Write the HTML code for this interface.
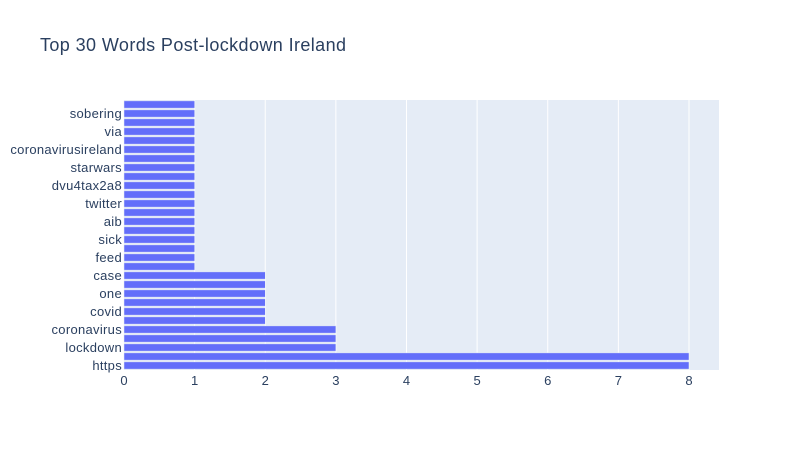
<!DOCTYPE html>
<html><head><meta charset="utf-8"><style>
body{margin:0;background:#fff;font-family:"Liberation Sans",Arial,sans-serif}
svg text{font-family:"Liberation Sans",Arial,sans-serif}
</style></head><body>
<svg id="chart" width="800" height="450">
<text x="40" y="51" font-size="18" letter-spacing="0.4" fill="#2a3f5f">Top 30 Words Post-lockdown Ireland</text>
<rect x="124" y="100" width="595" height="270" fill="#e5ecf6"/>
<g id="grid"></g><g id="bars"></g><g id="yt"></g><g id="xt"></g>
</svg>
<script>
const categories=["https","https2","lockdown","w3","coronavirus","w5","covid","w7","one","w9","case","w11","feed","w13","sick","w15","aib","w17","twitter","w19","dvu4tax2a8","w21","starwars","w23","coronavirusireland","w25","via","w27","sobering","w29"];
const values=[8,8,3,3,3,2,2,2,2,2,2,1,1,1,1,1,1,1,1,1,1,1,1,1,1,1,1,1,1,1];
const xTicks=[0,1,2,3,4,5,6,7,8];
const NS="http://www.w3.org/2000/svg";
const x0=124,x1=719,y0=100,y1=370,xmax=8.425;
const xs=v=>x0+v/xmax*(x1-x0);
const band=(y1-y0)/categories.length;
const ys=i=>y1-band*(i+0.5);
function mk(t,a,p){const e=document.createElementNS(NS,t);for(const k in a)e.setAttribute(k,a[k]);document.getElementById(p).appendChild(e);return e;}
xTicks.forEach(t=>{
  if(t>0){const l=mk("line",{x1:xs(t),x2:xs(t),y1:y0,y2:y1,stroke:"#fff","stroke-width":1},"grid");
  
  }
  const tx=mk("text",{x:xs(t),y:y1+15,"text-anchor":"middle","font-size":13,fill:"#2a3f5f"},"xt");
  tx.textContent=t;
  
  
});
values.forEach((v,i)=>{
  const h=band*0.8;
  const r=mk("rect",{x:x0,y:ys(i)-h/2,width:xs(v)-x0,height:h,fill:"#636efa",stroke:"#e5ecf6","stroke-width":0.5},"bars");
  
  
  if(i%2===0){
    const t=mk("text",{x:x0-2,y:ys(i)+4.5,"text-anchor":"end","font-size":13,"letter-spacing":0.3,fill:"#2a3f5f"},"yt");
    t.textContent=categories[i];
    
    
  }
});
</script>
</body></html>
